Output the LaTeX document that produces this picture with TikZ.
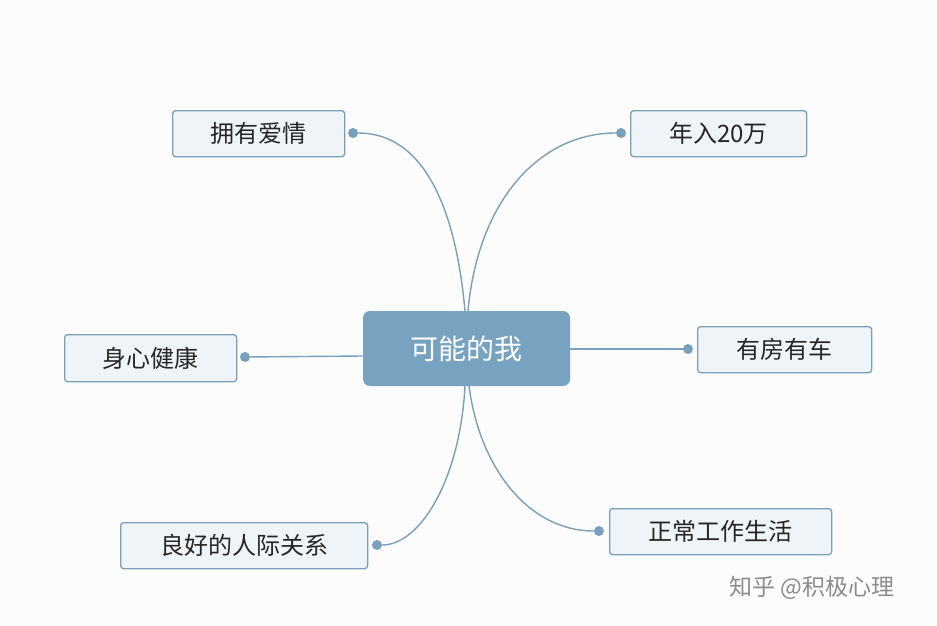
\documentclass[tikz,border=0pt]{standalone}
\usepackage{fontspec}
\setmainfont{Noto Sans CJK SC}
\begin{document}
\begin{tikzpicture}[x=1pt,y=-1pt,
leaf/.style={draw=edgec,fill=leafc,rounded corners=3pt,line width=1.3pt,anchor=north west,inner sep=0pt},
lt/.style={font=\fontsize{24}{26}\selectfont,text=black!85},
conn/.style={draw=edgec,line width=1.4pt},
dot/.style={circle,fill=edgec,inner sep=0pt,minimum size=10pt}]
\definecolor{edgec}{HTML}{789FBC}
\definecolor{leafc}{HTML}{EFF4F8}
\definecolor{mainc}{HTML}{77A3C1}
\fill[white!98!gray] (0,0) rectangle (937,626);
\useasboundingbox (0,0) rectangle (937,626);
\node[fill=mainc,rounded corners=7pt,text=white,font=\fontsize{28}{30}\selectfont,minimum width=207pt,minimum height=75pt,inner sep=0pt] (c) at (466.5,348.5) {可能的我};
\node[leaf,minimum width=172pt,minimum height=46pt] (a) at (172,110) {};
\node[lt] at (a.center) {拥有爱情};
\node[leaf,minimum width=176pt,minimum height=46pt] (b) at (630,110) {};
\node[lt] at (b.center) {年入20万};
\node[leaf,minimum width=172pt,minimum height=47pt] (d) at (64,334) {};
\node[lt] at (d.center) {身心健康};
\node[leaf,minimum width=174pt,minimum height=46pt] (e) at (697,326) {};
\node[lt] at (e.center) {有房有车};
\node[leaf,minimum width=247pt,minimum height=46pt] (f) at (120,522) {};
\node[lt] at (f.center) {良好的人际关系};
\node[leaf,minimum width=222pt,minimum height=46pt] (g) at (609,508) {};
\node[lt] at (g.center) {正常工作生活};
\node[dot] (da) at (353,133) {};
\node[dot] (db) at (621,133) {};
\node[dot] (dd) at (245,357) {};
\node[dot] (de) at (688,349) {};
\node[dot] (df) at (377,545) {};
\node[dot] (dg) at (599,531) {};
\coordinate (ct1) at (465,311);
\coordinate (ct2) at (468,311);
\coordinate (cb1) at (465,386);
\coordinate (cb2) at (469,386);
\coordinate (cl) at (363,356);
\draw[conn] (ct1) .. controls (455,200) and (420,133) .. (da);
\draw[conn] (ct2) .. controls (478,200) and (540,133) .. (db);
\draw[conn] (cl) -- (dd);
\draw[conn] (c.east |- de) -- (de);
\draw[conn] (cb1) .. controls (460,480) and (420,545) .. (df);
\draw[conn] (cb2) .. controls (480,470) and (530,531) .. (dg);
\node[text=gray!90,font=\fontsize{23}{25}\selectfont] (w) at (812,588) {知乎 @积极心理};
\end{tikzpicture}
\end{document}
